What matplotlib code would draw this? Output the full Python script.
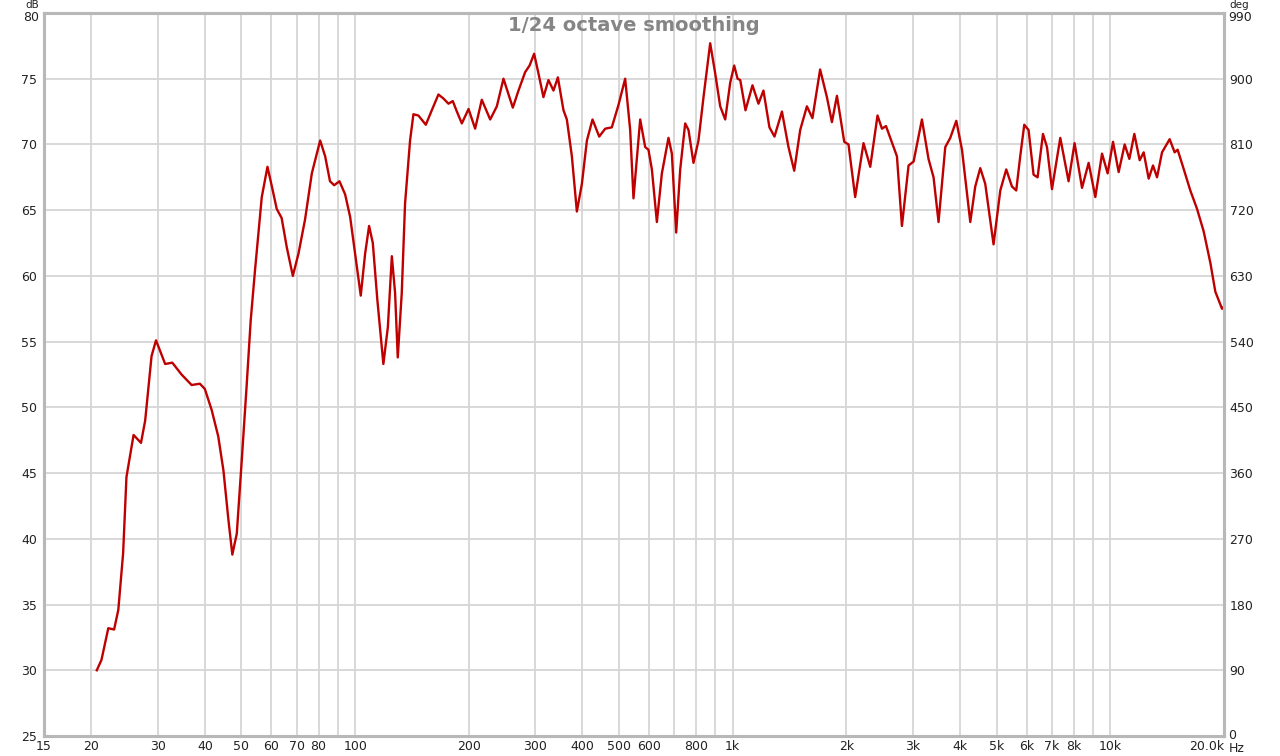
import matplotlib
matplotlib.use('Agg')
import matplotlib.pyplot as plt
from matplotlib.ticker import NullLocator

# Frequency response (Hz, dB SPL)
FREQ_HZ = [
    20.7, 21.3, 22.2, 23.0, 23.6, 24.3, 24.8, 25.9, 27.1, 27.8, 28.9, 29.7,
    31.4, 32.8, 34.7, 36.9, 38.8, 40.0, 41.7, 43.4, 44.8, 46.2, 47.3, 48.6,
    50.1, 51.6, 52.9, 54.3, 56.6, 58.6, 60.2, 62.0, 63.9, 65.9, 68.4, 70.8,
    73.7, 76.8, 80.8, 83.3, 85.8, 88.0, 90.9, 94.1, 97.0, 100.0, 103.5, 106.3,
    108.9, 111.4, 114.5, 118.8, 122.1, 125.1, 127.6, 129.7, 132.9, 135.6, 139.8,
    142.7, 147.1, 153.9, 159.6, 166.2, 171.3, 176.7, 181.4, 186.0, 191.7, 199.7,
    207.9, 216.5, 227.9, 237.3, 247.1, 261.6, 270.8, 282.0, 289.7, 297.9, 305.9,
    315.3, 325.1, 335.2, 344.3, 356.3, 363.7, 375.0, 386.6, 398.6, 411.0, 425.3,
    443.0, 459.5, 478.4, 498.2, 519.0, 535.1, 546.0, 568.8, 586.4, 598.2, 610.8,
    629.7, 649.2, 675.9, 690.0, 708.4, 726.0, 748.4, 763.7, 787.2, 811.6, 836.8,
    871.6, 898.7, 926.5, 955.2, 984.8, 1009, 1030, 1047, 1081, 1128, 1170, 1206,
    1251, 1290, 1350, 1405, 1455, 1509, 1572, 1626, 1704, 1776, 1831, 1888, 1974,
    2026, 2110, 2220, 2313, 2418, 2484, 2546, 2667, 2722, 2806, 2922, 3013, 3170,
    3300, 3403, 3508, 3655, 3768, 3909, 4047, 4257, 4388, 4524, 4664, 4906, 5112,
    5301, 5489, 5634, 5773, 5917, 6074, 6262, 6417, 6632, 6796, 7006, 7370, 7752,
    8041, 8415, 8761, 9126, 9507, 9837, 10166, 10521, 10914, 11231, 11577, 11959,
    12255, 12634, 12973, 13295, 13706, 14358, 14802, 15074, 15577, 16286, 16967,
    17664, 18402, 18971, 19760, 20040,
]
SPL_DB = [
    30.0, 30.8, 33.2, 33.1, 34.6, 38.9, 44.7, 47.9, 47.3, 49.0, 53.9, 55.1,
    53.3, 53.4, 52.5, 51.7, 51.8, 51.4, 49.8, 47.8, 45.2, 41.4, 38.8, 40.4,
    46.0, 51.6, 56.6, 60.4, 66.0, 68.3, 66.8, 65.1, 64.4, 62.2, 60.0, 61.7,
    64.3, 67.8, 70.3, 69.1, 67.2, 66.9, 67.2, 66.2, 64.5, 61.7, 58.5, 61.7,
    63.8, 62.5, 58.2, 53.3, 56.1, 61.5, 58.7, 53.8, 58.7, 65.5, 70.3,
    72.3, 72.2, 71.5, 72.6, 73.8, 73.5, 73.1, 73.3, 72.5, 71.6, 72.7,
    71.2, 73.4, 71.9, 72.9, 75.0, 72.8, 74.1, 75.5, 76.0, 76.9, 75.4,
    73.6, 74.9, 74.1, 75.1, 72.6, 71.9, 69.1, 64.9, 67.0, 70.3, 71.9,
    70.6, 71.2, 71.3, 73.0, 75.0, 71.1, 65.9, 71.9, 69.8, 69.6, 68.1,
    64.1, 67.8, 70.5, 69.3, 63.3, 68.1, 71.6, 71.1, 68.6, 70.3, 73.6,
    77.7, 75.4, 72.9, 71.9, 74.7, 76.0, 75.0, 74.9, 72.6, 74.5, 73.1, 74.1,
    71.3, 70.6, 72.5, 69.8, 68.0, 71.1, 72.9, 72.0, 75.7, 73.6, 71.7, 73.7, 70.2,
    70.0, 66.0, 70.1, 68.3, 72.2, 71.2, 71.4, 69.8, 69.1, 63.8, 68.4, 68.7, 71.9,
    68.9, 67.5, 64.1, 69.8, 70.5, 71.8, 69.6, 64.1, 66.8, 68.2, 67.0, 62.4, 66.5,
    68.1, 66.8, 66.5, 69.1, 71.5, 71.1, 67.7, 67.5, 70.8, 69.8, 66.6, 70.5, 67.2,
    70.1, 66.7, 68.6, 66.0, 69.3, 67.8, 70.2, 67.9, 70.0, 68.9, 70.8, 68.8,
    69.4, 67.4, 68.4, 67.5, 69.4, 70.4, 69.4, 69.6, 68.3, 66.5, 65.1,
    63.4, 61.0, 58.8, 57.5, 57.7,
]

X_TICKS = [15, 20, 30, 40, 50, 60, 70, 80, 100, 200, 300, 400, 500, 600, 800,
           1000, 2000, 3000, 4000, 5000, 6000, 7000, 8000, 10000, 20000]
X_LABELS = ["15", "20", "30", "40", "50", "60", "70", "80", "100", "200", "300",
            "400", "500", "600", "800", "1k", "2k", "3k", "4k", "5k", "6k", "7k",
            "8k", "10k", "20.0k"]
X_GRID = [20, 30, 40, 50, 60, 70, 80, 90, 100, 200, 300, 400, 500, 600, 700,
          800, 900, 1000, 2000, 3000, 4000, 5000, 6000, 7000, 8000, 9000, 10000]
DB_TICKS = list(range(25, 81, 5))
DEG_TICKS = list(range(0, 991, 90))

GRID_C = "#d6d6d6"
SPINE_C = "#b8b8b8"
TEXT_C = "#222222"
W, H = 1280, 756

fig = plt.figure(figsize=(12.8, 7.56), dpi=100)
ax = fig.add_axes([44 / W, 1 - 736 / H, 1180 / W, 723 / H])

ax.set_xscale("log")
ax.set_xlim(15, 20000)
ax.set_ylim(25, 80)

for f in X_GRID:
    ax.axvline(f, color=GRID_C, lw=1.3, zorder=1)
for d in DB_TICKS[1:-1]:
    ax.axhline(d, color=GRID_C, lw=1.3, zorder=1)

ax.plot(FREQ_HZ, SPL_DB, color="#bf0000", lw=1.7, zorder=3,
        solid_joinstyle="round")

ax.xaxis.set_minor_locator(NullLocator())
ax.set_xticks(X_TICKS)
ax.set_xticklabels(X_LABELS)
ax.set_yticks(DB_TICKS)
# top labels drawn by hand below, so they sit under the unit names
ax.set_yticklabels([str(d) for d in DB_TICKS[:-1]] + [""])
ax.tick_params(axis="both", length=0, labelsize=9, colors=TEXT_C)
ax.tick_params(axis="x", pad=3)
ax.tick_params(axis="y", pad=5)
ax.get_xticklabels()[-1].set_horizontalalignment("right")

ax2 = ax.twinx()
ax2.set_ylim(0, 990)
ax2.set_yticks(DEG_TICKS)
# end labels drawn by hand (0 sits above the "Hz" unit)
ax2.set_yticklabels([""] + [str(d) for d in DEG_TICKS[1:-1]] + [""])
ax2.tick_params(axis="y", length=0, labelsize=9, colors=TEXT_C, pad=4)

for a in (ax, ax2):
    for s in a.spines.values():
        s.set_color(SPINE_C)
        s.set_linewidth(2.2)

fig.text(39 / W, 1 - 11 / H, str(DB_TICKS[-1]), ha="right", va="top",
         fontsize=9, color=TEXT_C)
fig.text(1228 / W, 1 - 11 / H, str(DEG_TICKS[-1]), ha="left", va="top",
         fontsize=9, color=TEXT_C)
fig.text(1228 / W, 1 - 742 / H, str(DEG_TICKS[0]), ha="left", va="bottom",
         fontsize=9, color=TEXT_C)
fig.text(39 / W, 1.0, "dB", ha="right", va="top", fontsize=7.5, color=TEXT_C)
fig.text(1229 / W, 1.0, "deg", ha="left", va="top", fontsize=7.5, color=TEXT_C)
fig.text(1229 / W, 1 - 742 / H, "Hz", ha="left", va="top", fontsize=9,
         color=TEXT_C)

ax.text(0.5, 0.983, "1/24 octave smoothing", transform=ax.transAxes,
        ha="center", va="center", fontsize=14, fontweight="bold",
        color="#858585", zorder=4)

fig.savefig("out.png", dpi=100)
